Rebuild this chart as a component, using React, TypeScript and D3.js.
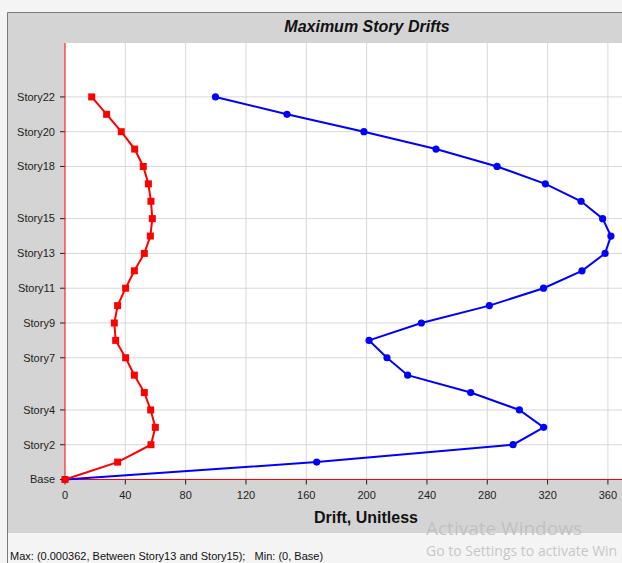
import React from "react";
import * as d3 from "d3";

// Story levels (0 = Base) and which of them carry an axis label
const storyLabels = ["Base", "Story2", "Story4", "Story7", "Story9", "Story11", "Story13", "Story15", "Story18", "Story20", "Story22"];
const storyLevels = [0, 2, 4, 7, 9, 11, 13, 15, 18, 20, 22];

// Drift values per story, Base..Story22 (displayed ×10^-6)
const driftX = [0, 34.9, 57.0, 59.9, 56.8, 52.6, 46.0, 40.2, 33.6, 32.7, 34.9, 40.2, 46.0, 52.6, 56.6, 57.9, 57.0, 55.3, 51.9, 46.2, 37.3, 27.6, 17.7];
const driftY = [0, 166.9, 297.1, 317.4, 301.3, 269.0, 227.2, 213.5, 201.6, 236.3, 281.4, 317.3, 342.8, 358.1, 362.0, 356.5, 342.2, 318.5, 286.5, 246.0, 198.2, 147.2, 99.8];

const xTicks = [0, 40, 80, 120, 160, 200, 240, 280, 320, 360];

const W = 622;
const H = 563;
const FONT = "Arial, 'Liberation Sans', Helvetica, sans-serif";

export default function App() {
  const x = d3.scaleLinear().domain([0, 370]).range([65, 623]);
  const y = d3.scaleLinear().domain([0, 25.1]).range([479.5, 43]);

  const line = d3
    .line<number>()
    .x((d) => x(d))
    .y((_, i) => y(i));

  const plotLeft = x(0);
  const plotTop = y(25.1);
  const plotBottom = y(0);

  return (
    <div style={{ position: "fixed", left: 0, top: 0 }}>
      <svg width={W} height={H} style={{ display: "block" }}>
        {/* window background */}
        <rect x={0} y={0} width={W} height={H} fill="#f4f4f4" />
        <rect x={7.5} y={12.5} width={W} height={520.5} fill="#d4d4d4" />
        <line x1={7.5} y1={12.5} x2={W} y2={12.5} stroke="#7a7a7a" />
        <line x1={7.5} y1={12.5} x2={7.5} y2={H} stroke="#7a7a7a" />

        {/* title */}
        <text
          x={367}
          y={32}
          textAnchor="middle"
          fontFamily={FONT}
          fontSize={16}
          fontWeight="bold"
          fontStyle="italic"
          fill="#111"
        >
          Maximum Story Drifts
        </text>

        {/* plot area */}
        <rect x={plotLeft} y={plotTop} width={W - plotLeft} height={plotBottom - plotTop} fill="#ffffff" />

        {/* grid */}
        {xTicks.filter((t) => t > 0).map((t) => (
          <line key={"gx" + t} x1={x(t)} x2={x(t)} y1={plotTop} y2={plotBottom} stroke="#d8d8d8" strokeWidth={1} />
        ))}
        {storyLevels.filter((s) => s > 0).map((s) => (
          <line key={"gy" + s} x1={plotLeft} x2={W} y1={y(s)} y2={y(s)} stroke="#d8d8d8" strokeWidth={1} />
        ))}

        {/* y ticks and labels */}
        {storyLevels.map((s, i) => (
          <g key={"yt" + s}>
            <line x1={plotLeft - 5} x2={plotLeft} y1={y(s)} y2={y(s)} stroke="#222" />
            <text
              x={55}
              y={y(s)}
              dy="0.35em"
              textAnchor="end"
              fontFamily={FONT}
              fontSize={11}
              fill="#222"
            >
              {storyLabels[i]}
            </text>
          </g>
        ))}

        {/* x ticks and labels */}
        {xTicks.map((t) => (
          <g key={"xt" + t}>
            <line x1={x(t)} x2={x(t)} y1={plotBottom} y2={plotBottom + 5} stroke="#222" />
            <text x={x(t)} y={499} textAnchor="middle" fontFamily={FONT} fontSize={11} fill="#222">
              {t}
            </text>
          </g>
        ))}

        {/* zero axes */}
        <line x1={plotLeft} x2={plotLeft} y1={plotTop} y2={plotBottom} stroke="#ff0000" strokeWidth={1} />
        <line x1={plotLeft} x2={W} y1={plotBottom} y2={plotBottom} stroke="#ff0000" strokeWidth={1} />

        {/* Y-direction drift */}
        <path d={line(driftY) ?? ""} fill="none" stroke="#0000ff" strokeWidth={2} />
        {driftY.map((v, i) => (
          <circle key={"py" + i} cx={x(v)} cy={y(i)} r={3.6} fill="#0000ff" />
        ))}

        {/* X-direction drift */}
        <path d={line(driftX) ?? ""} fill="none" stroke="#ff0000" strokeWidth={2} />
        {driftX.map((v, i) => (
          <rect key={"px" + i} x={x(v) - 3.5} y={y(i) - 3.5} width={7} height={7} fill="#ff0000" />
        ))}

        {/* axis title */}
        <text x={366} y={523} textAnchor="middle" fontFamily={FONT} fontSize={16} fontWeight="bold" fill="#111">
          Drift, Unitless
        </text>

        {/* status line */}
        <text x={10} y={560} fontFamily={FONT} fontSize={11} fill="#111">
          Max: (0.000362, Between Story13 and Story15);{"\u00a0\u00a0\u00a0"}Min: (0, Base)
        </text>

        {/* system overlay text */}
        <text x={426} y={535} fontFamily="'Open Sans', 'Noto Sans', sans-serif" fontSize={19} fill="#bdbdbd" fillOpacity={0.85}>
          Activate Windows
        </text>
        <text x={426} y={556} fontFamily="'Open Sans', 'Noto Sans', sans-serif" fontSize={14} fill="#bdbdbd" fillOpacity={0.85}>
          Go to Settings to activate Win
        </text>
      </svg>
    </div>
  );
}
